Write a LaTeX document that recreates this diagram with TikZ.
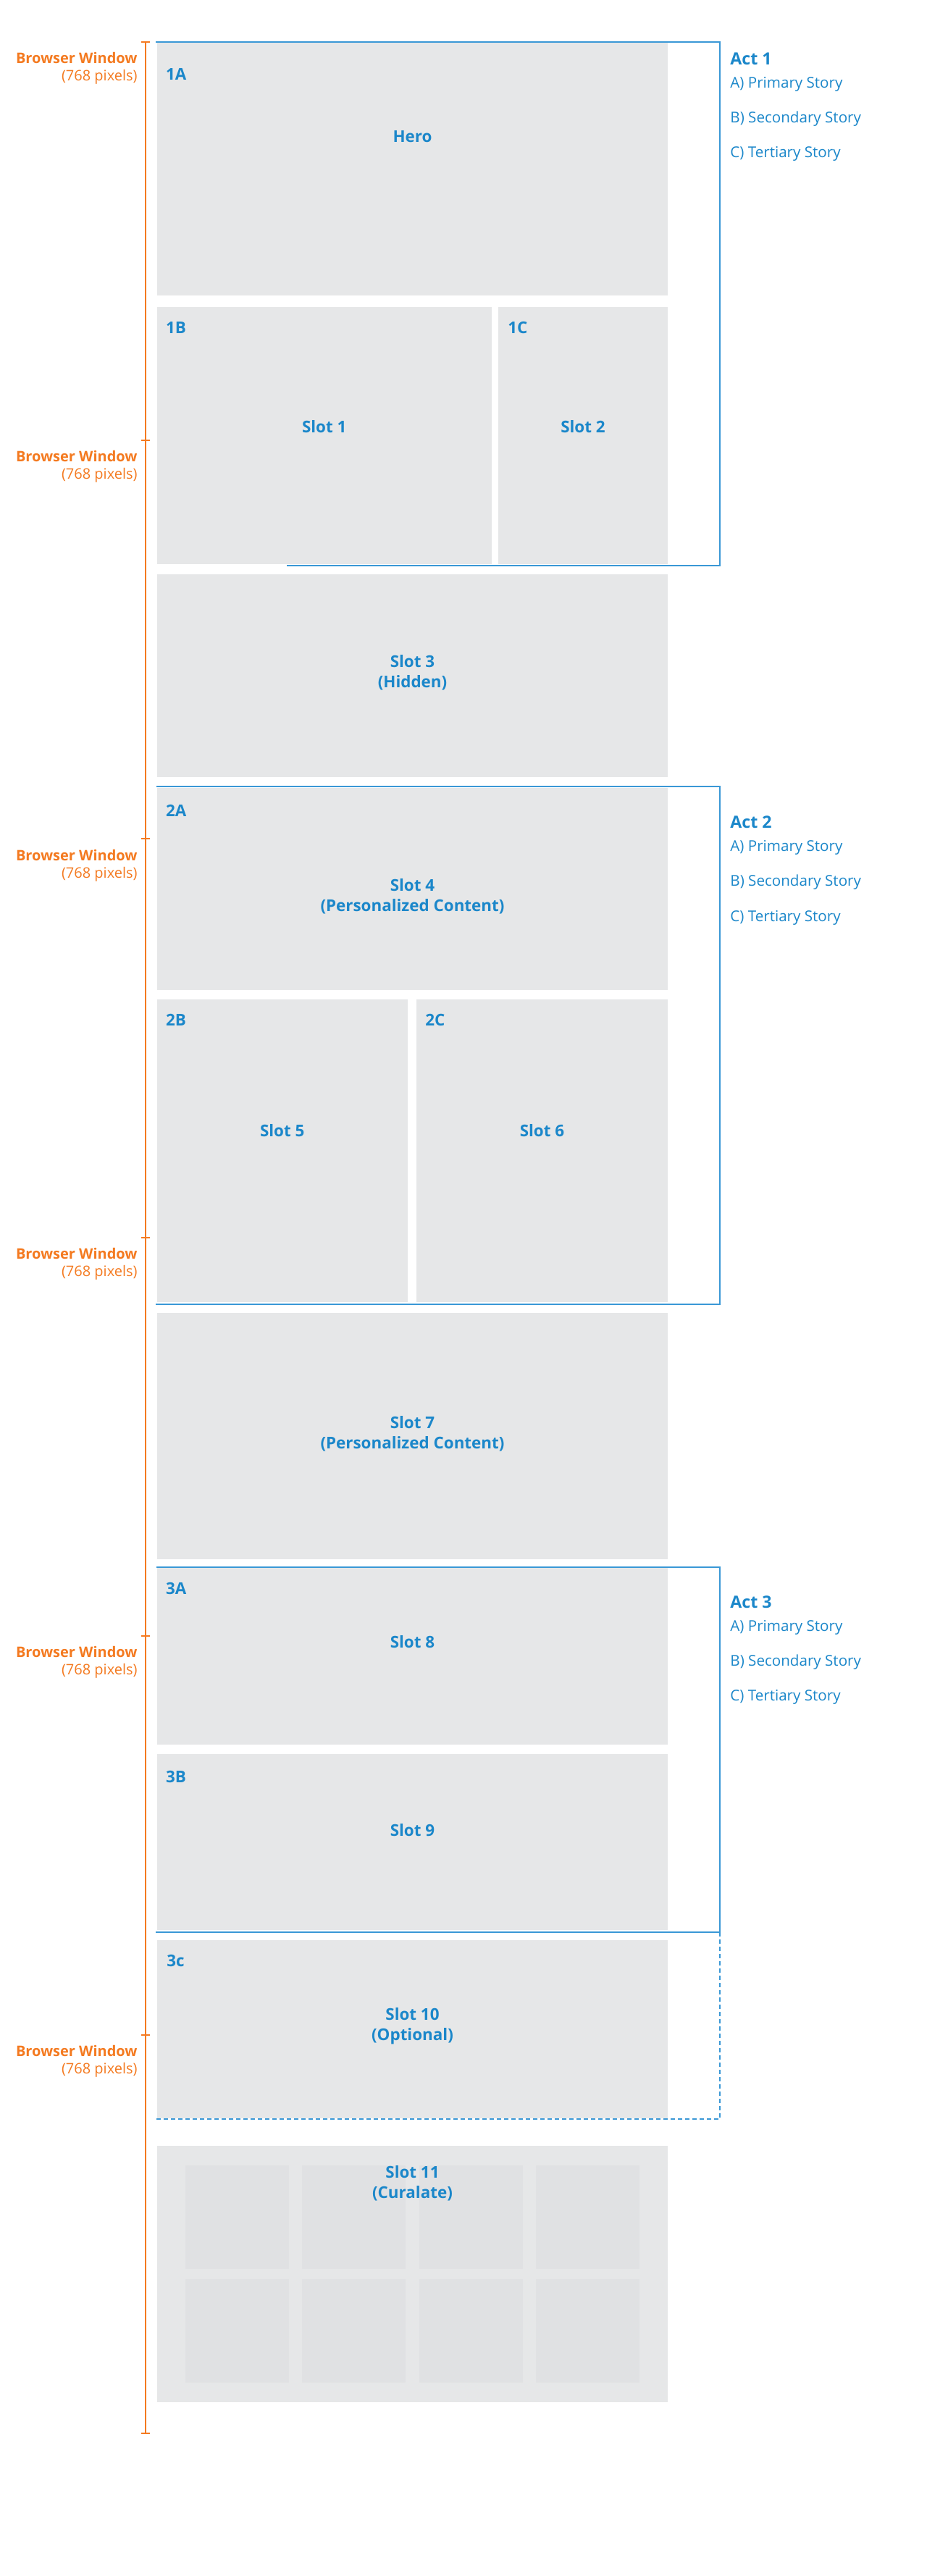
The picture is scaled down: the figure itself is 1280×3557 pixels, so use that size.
\documentclass[tikz,border=0pt]{standalone}
\usepackage{fontspec}
\setmainfont{Open Sans}
\usetikzlibrary{positioning}

\definecolor{wfgrey}{HTML}{E6E7E8}
\definecolor{wftile}{HTML}{E0E1E3}
\definecolor{wfblue}{HTML}{1B87CA}
\definecolor{wfline}{HTML}{3A98D6}
\definecolor{wforange}{HTML}{F47A20}

\begin{document}
\begin{tikzpicture}[x=0.5pt,y=-0.5pt,
  slot/.style={fill=wfgrey},
  tile/.style={fill=wftile},
  slotname/.style={text=wfblue,font=\fontsize{11.2}{14}\selectfont\bfseries,align=center,anchor=base,inner sep=0pt},
  corner/.style={text=wfblue,font=\fontsize{11.2}{14}\selectfont\bfseries,anchor=base west,inner sep=0pt},
  actname/.style={text=wfblue,font=\fontsize{11.6}{14}\selectfont\bfseries,anchor=base west,inner sep=0pt},
  story/.style={text=wfblue,font=\fontsize{10.3}{12}\selectfont,anchor=base west,inner sep=0pt},
  window/.style={text=wforange,font=\fontsize{10}{12}\selectfont,align=right,anchor=base east,inner sep=0pt},
  ruler/.style={draw=wforange,line width=1pt},
  act/.style={draw=wfline,line width=1pt}]
  \fill[white] (0,0) rectangle (1280,3557);
  \useasboundingbox (0,0) rectangle (1280,3557);

  % slots
  \fill[slot] (216.5,59) rectangle (922,408);
  \fill[slot] (216.5,424) rectangle (679,779);
  \fill[slot] (688,424) rectangle (922,779);
  \fill[slot] (216.5,793) rectangle (922,1073);
  \fill[slot] (216.5,1088) rectangle (922,1367);
  \fill[slot] (216.5,1380) rectangle (563,1798);
  \fill[slot] (575,1380) rectangle (922,1798);
  \fill[slot] (216.5,1813) rectangle (922,2153);
  \fill[slot] (216.5,2165) rectangle (922,2409);
  \fill[slot] (216.5,2422) rectangle (922,2665);
  \fill[slot] (216.5,2679) rectangle (922,2925);
  \fill[slot] (216.5,2963) rectangle (922,3317);
  \foreach \c in {0,...,3} {
    \foreach \r in {0,1} {
    \pgfmathsetmacro{\tx}{256+161.3*\c}
    \pgfmathsetmacro{\tty}{2990+157*\r}
    \fill[tile] (\tx,\tty) rectangle ++(143,142.5);
    }
  }

  % acts
  \draw[act] (396,780.5) -- (994,780.5) -- (994,57.5) -- (215,57.5);
  \draw[act] (216,1086) -- (994,1086) -- (994,1801) -- (215,1801);
  \draw[act] (216,2163.5) -- (994,2163.5) -- (994,2668) -- (215,2668);
  \draw[act,dash pattern=on 3pt off 2pt] (994,2668) -- (994,2926) -- (215,2926);

  % browser window ruler
  \coordinate (bwtop) at (200.7,57.5);
  \coordinate (bwbot) at (200.7,3360);
  \draw[ruler] (bwtop) -- (bwbot);
  \foreach \k in {0,1,...,6} {
    \pgfmathsetmacro{\ty}{57.5+550.4*\k}
    \draw[ruler] (194.5,\ty) -- (206.5,\ty);
  }
  \foreach \k in {0,1,...,5} {
    \pgfmathsetmacro{\ly}{111.3+550.4*\k}
    \node[window] (bw\k) at (190,\ly) {\bfseries Browser Window\\(768 pixels)};
  }

  % slot names
  \node[slotname] (hero) at (569.5,196.7) {Hero};
  \node[slotname] (slot1) at (447.7,597) {Slot 1};
  \node[slotname] (slot2) at (805,597) {Slot 2};
  \node[slotname] (slot3) at (569.5,949.6) {Slot 3\\(Hidden)};
  \node[slotname] (slot4) at (569.5,1258) {Slot 4\\(Personalized Content)};
  \node[slotname] (slot5) at (389.7,1569.5) {Slot 5};
  \node[slotname] (slot6) at (748.5,1569.5) {Slot 6};
  \node[slotname] (slot7) at (569.5,2000) {Slot 7\\(Personalized Content)};
  \node[slotname] (slot8) at (569.5,2275.5) {Slot 8};
  \node[slotname] (slot9) at (569.5,2535.7) {Slot 9};
  \node[slotname] (slot10) at (569.5,2817.7) {Slot 10\\(Optional)};
  \node[slotname] (slot11) at (569.5,3035.4) {Slot 11\\(Curalate)};

  % corner ids
  \node[corner] (c1A) at (228.7,110.3) {1A};
  \node[corner] (c1B) at (228.7,460.5) {1B};
  \node[corner] (c1C) at (701,460.5) {1C};
  \node[corner] (c2A) at (228.7,1127.5) {2A};
  \node[corner] (c2B) at (228.7,1416) {2B};
  \node[corner] (c2C) at (587,1416) {2C};
  \node[corner] (c3A) at (228.7,2201.5) {3A};
  \node[corner] (c3B) at (228.7,2461) {3B};
  \node[corner] (c3c) at (230,2715) {3c};

  % act stories
  \foreach \n/\ay in {1/89.3,2/1143.8,3/2220.3} {
    \node[actname] (act\n) at (1008,\ay) {Act \n};
    \node[story] (act\n a) at (1008,\ay+31.7) {A) Primary Story};
    \node[story] (act\n b) at (1008,\ay+80) {B) Secondary Story};
    \node[story] (act\n c) at (1008,\ay+128.4) {C) Tertiary Story};
  }
\end{tikzpicture}
\end{document}
